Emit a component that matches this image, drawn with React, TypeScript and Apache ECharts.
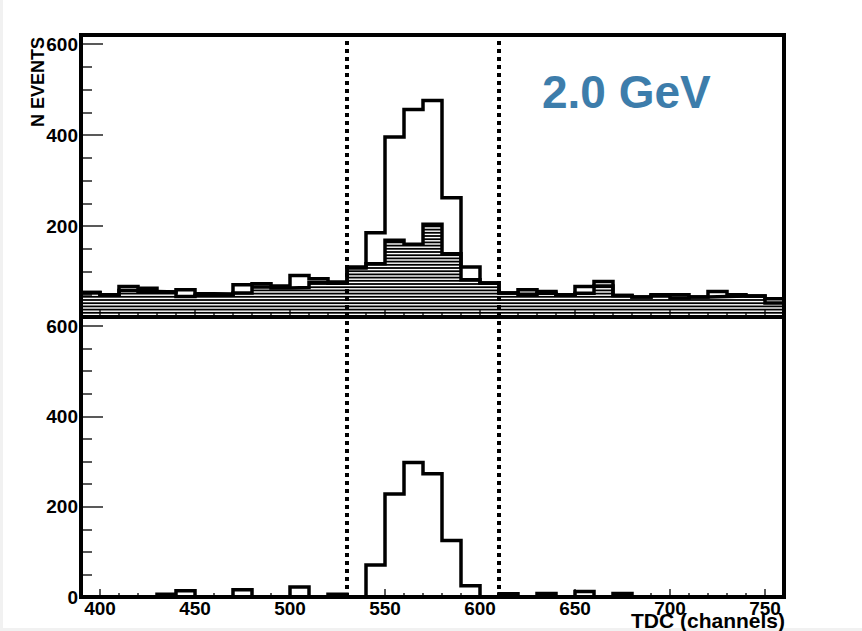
import React, { useEffect, useRef } from "react";
import * as echarts from "echarts";

// ---- data ----
const BIN_STARTS = [390, 400, 410, 420, 430, 440, 450, 460, 470, 480, 490, 500, 510, 520, 530, 540, 550, 560, 570, 580, 590, 600, 610, 620, 630, 640, 650, 660, 670, 680, 690, 700, 710, 720, 730, 740, 750];
const BIN_WIDTH = 10;
const X_END = 760;

// top panel: all events (open outline)
const TOTAL_EVENTS = [54, 49, 67, 63, 55, 60, 51, 50, 71, 73, 68, 91, 84, 77, 110, 185, 396, 456, 476, 262, 110, 75, 53, 60, 56, 49, 67, 78, 47, 44, 49, 49, 44, 56, 49, 46, 40];
// top panel: background (hatched)
const BACKGROUND_EVENTS = [54, 49, 58, 56, 55, 45, 48, 50, 53, 66, 64, 65, 76, 74, 108, 117, 169, 160, 204, 139, 82, 75, 53, 50, 52, 49, 52, 68, 47, 44, 47, 42, 44, 45, 46, 46, 31];
// bottom panel: selected events
const SELECTED_EVENTS = [0, 0, 0, 0, 6, 14, 0, 0, 16, 0, 0, 22, 0, 6, 0, 71, 228, 298, 273, 125, 25, 0, 7, 0, 8, 0, 12, 0, 8, 0, 0, 0, 0, 0, 0, 0, 0];

const CUT_LINES = [530, 610];
const X_MAJOR_TICKS = [400, 450, 500, 550, 600, 650, 700, 750];
const X_MINOR_TICKS = [410, 420, 430, 440, 460, 470, 480, 490, 510, 520, 530, 540, 560, 570, 580, 590, 610, 620, 630, 640, 660, 670, 680, 690, 710, 720, 730, 740];
const Y_MAJOR_TOP = [200, 400, 600];
const Y_MAJOR_BOTTOM = [0, 200, 400, 600];
const Y_MINOR_TICKS = [50, 100, 150, 250, 300, 350, 450, 500, 550];

const FONT = "'Liberation Sans', Arial, Helvetica, sans-serif";

function stepData(values: number[]) {
  const d = BIN_STARTS.map((x, i) => [x, values[i]]);
  d.push([X_END, values[values.length - 1]]);
  return d;
}

export default function App() {
  const ref = useRef<HTMLDivElement>(null);

  useEffect(() => {
    if (!ref.current) return;
    const chart = echarts.init(ref.current, undefined, { renderer: "svg" });

    const xCommon = {
      type: "value" as const,
      min: 390,
      max: 760,
      position: "bottom" as const,
      offset: 0,
      axisLine: { show: false },
      splitLine: { show: false },
    };
    const yCommon = {
      type: "value" as const,
      min: 0,
      max: 620,
      position: "left" as const,
      offset: 0,
      axisLine: { show: false },
      splitLine: { show: false },
    };
    const labelStyle = {
      color: "#000",
      fontSize: 19,
      fontWeight: "bold" as const,
      fontFamily: FONT,
    };
    const tickLine = { color: "#222", width: 1.5 };

    const markLine = {
      silent: true,
      symbol: ["none", "none"],
      label: { show: false },
      lineStyle: { type: [4, 4], width: 4, color: "#000" },
      z: 10,
      data: CUT_LINES.map((v) => ({ xAxis: v })),
    };

    const option: any = {
      animation: false,
      backgroundColor: "transparent",
      grid: [
        { left: 81, top: 35, width: 703, height: 282, show: true, borderColor: "#000", borderWidth: 4, backgroundColor: "transparent", z: 5 },
        { left: 81, top: 317, width: 703, height: 280, show: true, borderColor: "#000", borderWidth: 4, backgroundColor: "transparent", z: 5 },
      ],
      xAxis: [
        { ...xCommon, gridIndex: 0, axisTick: { show: true, inside: true, length: 8, lineStyle: tickLine, customValues: X_MAJOR_TICKS }, axisLabel: { show: false } },
        { ...xCommon, gridIndex: 0, axisTick: { show: true, inside: true, length: 4, lineStyle: tickLine, customValues: X_MINOR_TICKS }, axisLabel: { show: false } },
        { ...xCommon, gridIndex: 1, axisTick: { show: true, inside: true, length: 8, lineStyle: tickLine, customValues: X_MAJOR_TICKS }, axisLabel: { ...labelStyle, margin: 2, customValues: X_MAJOR_TICKS } },
        { ...xCommon, gridIndex: 1, axisTick: { show: true, inside: true, length: 4, lineStyle: tickLine, customValues: X_MINOR_TICKS }, axisLabel: { show: false } },
      ],
      yAxis: [
        { ...yCommon, gridIndex: 0, axisTick: { show: true, inside: true, length: 22, lineStyle: tickLine, customValues: Y_MAJOR_TOP }, axisLabel: { ...labelStyle, margin: 3, customValues: Y_MAJOR_TOP } },
        { ...yCommon, gridIndex: 0, axisTick: { show: true, inside: true, length: 11, lineStyle: tickLine, customValues: Y_MINOR_TICKS }, axisLabel: { show: false } },
        { ...yCommon, gridIndex: 1, axisTick: { show: true, inside: true, length: 22, lineStyle: tickLine, customValues: Y_MAJOR_BOTTOM }, axisLabel: { ...labelStyle, margin: 3, customValues: Y_MAJOR_BOTTOM } },
        { ...yCommon, gridIndex: 1, axisTick: { show: true, inside: true, length: 11, lineStyle: tickLine, customValues: Y_MINOR_TICKS }, axisLabel: { show: false } },
      ],
      series: [
        {
          type: "custom",
          name: "background hatch",
          xAxisIndex: 0,
          yAxisIndex: 0,
          clip: true,
          z: 1,
          encode: { x: [0, 1], y: 2 },
          data: BIN_STARTS.map((x, i) => [x, x + BIN_WIDTH, BACKGROUND_EVENTS[i]]),
          renderItem: (params: any, api: any) => {
            const x0 = api.value(0);
            const x1 = api.value(1);
            const v = api.value(2);
            const pTop = api.coord([x0, v]);
            const pBot = api.coord([x1, 0]);
            const left = pTop[0];
            const right = pBot[0];
            const top = pTop[1];
            const bottom = pBot[1];
            const children: any[] = [];
            for (let y = bottom - 1; y > top; y -= 3.2) {
              children.push({
                type: "line",
                shape: { x1: left, y1: y, x2: right, y2: y },
                style: { stroke: "#000", lineWidth: 1.8 },
              });
            }
            return { type: "group", children };
          },
        },
        {
          type: "line",
          name: "background",
          xAxisIndex: 0,
          yAxisIndex: 0,
          step: "end",
          showSymbol: false,
          z: 3,
          lineStyle: { color: "#000", width: 3.5, cap: "square", join: "miter" },
          data: stepData(BACKGROUND_EVENTS),
        },
        {
          type: "line",
          name: "all",
          xAxisIndex: 0,
          yAxisIndex: 0,
          step: "end",
          showSymbol: false,
          z: 4,
          lineStyle: { color: "#000", width: 3.5, cap: "square", join: "miter" },
          data: stepData(TOTAL_EVENTS),
          markLine,
        },
        {
          type: "line",
          name: "selected",
          xAxisIndex: 2,
          yAxisIndex: 2,
          step: "end",
          showSymbol: false,
          z: 4,
          lineStyle: { color: "#000", width: 3.5, cap: "square", join: "miter" },
          data: stepData(SELECTED_EVENTS),
          markLine,
        },
      ],
      graphic: [
        {
          type: "text",
          x: 38,
          y: 37,
          rotation: Math.PI / 2,
          style: { text: "N EVENTS", fontSize: 18, fontWeight: "bold", fontFamily: FONT, fill: "#000", align: "right", verticalAlign: "middle" },
        },
        {
          type: "text",
          x: 542,
          y: 92,
          style: { text: "2.0 GeV", fontSize: 46, fontWeight: "bold", fontFamily: FONT, fill: "#3d7dab", align: "left", verticalAlign: "middle" },
        },
        {
          type: "text",
          x: 785,
          y: 620,
          z: 20,
          style: { text: "TDC (channels)", fontSize: 21, fontWeight: "bold", fontFamily: FONT, fill: "#000", align: "right", verticalAlign: "middle" },
        },
      ],
    };

    chart.setOption(option);
    return () => chart.dispose();
  }, []);

  return (
    <div style={{ position: "fixed", left: 0, top: 0, width: 862, height: 631, background: "#f1f1f1", overflow: "hidden" }}>
      <div style={{ position: "absolute", left: 3, top: 0, width: 859, height: 628, background: "#fff" }} />
      <div ref={ref} style={{ position: "absolute", left: 0, top: 0, width: 862, height: 631 }} />
    </div>
  );
}
